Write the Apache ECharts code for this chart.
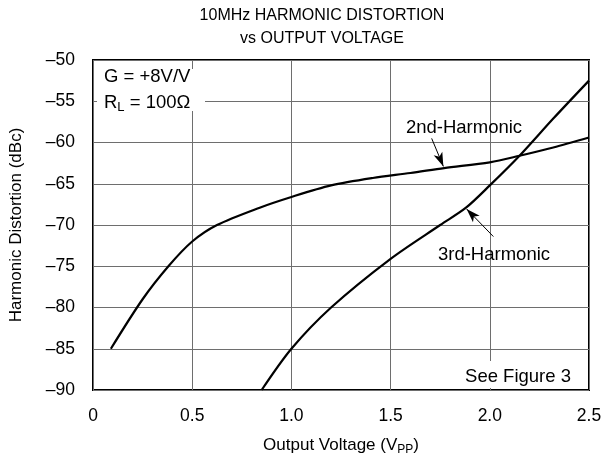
<!DOCTYPE html>
<html>
<head>
<meta charset="utf-8">
<script src="https://cdn.jsdelivr.net/npm/echarts@6/dist/echarts.min.js"></script>
<style>
html,body{margin:0;padding:0;background:#fff;}
#chart{width:609px;height:461px;}
</style>
</head>
<body>
<div id="chart"></div>
<script>
// ---- data ----
const xTicks = [0, 0.5, 1.0, 1.5, 2.0, 2.5];
const yTicks = [-90, -85, -80, -75, -70, -65, -60, -55, -50];
const secondHarmonic = [
  [0.09, -85], [0.25, -79.0], [0.38, -75], [0.5, -72.0], [0.625, -70.0], [0.84, -67.9],
  [1.0, -66.6], [1.2, -65.2], [1.41, -64.3], [1.6, -63.7], [1.77, -63.1], [2.0, -62.4],
  [2.15, -61.6], [2.32, -60.6], [2.5, -59.4]
];
const thirdHarmonic = [
  [0.85, -90], [1.0, -85], [1.2, -80], [1.5, -74.1], [1.75, -70.0],
  [1.88, -67.9], [2.0, -65.2], [2.15, -61.6], [2.32, -57.1], [2.5, -52.5]
];
const arrow2nd = [[1.707, -59.5], [1.766, -62.9]];
const arrow3rd = [[2.018, -71.4], [1.883, -68.05]];
const titleLines = ['10MHz HARMONIC DISTORTION', 'vs OUTPUT VOLTAGE'];
const FONT = '"Liberation Sans", Arial, Helvetica, sans-serif';

const chart = echarts.init(document.getElementById('chart'));
const option = {
  animation: false,
  backgroundColor: '#fff',
  textStyle: { fontFamily: FONT, color: '#000' },
  grid: {
    left: 93, right: 20, top: 60, bottom: 65,
    show: true, borderColor: '#000', borderWidth: 2, backgroundColor: 'transparent'
  },
  xAxis: {
    type: 'value', min: 0, max: 2.5, interval: 0.5,
    axisLine: { show: false }, axisTick: { show: false },
    splitLine: { show: true, lineStyle: { color: '#6e6e6e', width: 1 } },
    axisLabel: {
      margin: 17, fontSize: 17.5, color: '#000', fontFamily: FONT,
      formatter: v => (v === 0 ? '0' : v.toFixed(1))
    },
    name: '{a|Output Voltage (V}{s|PP}{a|)}',
    nameLocation: 'middle', nameGap: 45,
    nameTextStyle: {
      rich: {
        a: { fontSize: 17, fontFamily: FONT, color: '#000' },
        s: { fontSize: 12, fontFamily: FONT, color: '#000', padding: [9, 0, 0, 0] }
      }
    }
  },
  yAxis: {
    type: 'value', min: -90, max: -50, interval: 5,
    axisLine: { show: false }, axisTick: { show: false },
    splitLine: { show: true, lineStyle: { color: '#6e6e6e', width: 1 } },
    axisLabel: {
      margin: 18, fontSize: 17.5, color: '#000', fontFamily: FONT,
      formatter: v => (v < 0 ? '\u2013' + Math.abs(v) : String(v))
    },
    name: 'Harmonic Distortion (dBc)',
    nameLocation: 'middle', nameGap: 68,
    nameTextStyle: { fontSize: 17, fontFamily: FONT, color: '#000' }
  },
  graphic: [
    { type: 'rect', z: 50, shape: { x: 97, y: 69, width: 108, height: 42 }, style: { fill: '#fff' } },
    { type: 'rect', z: 50, shape: { x: 455, y: 361, width: 130, height: 27 }, style: { fill: '#fff' } },
    { type: 'text', z: 60, x: 322, y: 4, style: { text: titleLines.join('\n'), font: '16px ' + FONT, fill: '#000', textAlign: 'center', lineHeight: 23 } },
    { type: 'text', z: 60, x: 104, y: 77, style: { text: 'G = +8V/V', font: '18.5px ' + FONT, fill: '#000', textVerticalAlign: 'middle' } },
    { type: 'text', z: 60, x: 104, y: 91, style: {
        text: '{a|R}{s|L}{a| = 100\u03A9}',
        rich: {
          a: { fontSize: 18.5, fontFamily: FONT, fill: '#000' },
          s: { fontSize: 13, fontFamily: FONT, fill: '#000', padding: [10, 0, 0, 0] }
        }
      } },
    { type: 'text', z: 60, x: 464, y: 128, style: { text: '2nd-Harmonic', font: '18.5px ' + FONT, fill: '#000', textAlign: 'center', textVerticalAlign: 'middle' } },
    { type: 'text', z: 60, x: 494, y: 255, style: { text: '3rd-Harmonic', font: '18.5px ' + FONT, fill: '#000', textAlign: 'center', textVerticalAlign: 'middle' } },
    { type: 'text', z: 60, x: 518, y: 377, style: { text: 'See Figure 3', font: '18.5px ' + FONT, fill: '#000', textAlign: 'center', textVerticalAlign: 'middle' } }
  ],
  series: [
    {
      type: 'line', name: '2nd-Harmonic', data: secondHarmonic, smooth: 0.3,
      showSymbol: false, lineStyle: { color: '#000', width: 2.2 },
      markLine: {
        silent: true, symbol: ['none', 'arrow'], symbolSize: [7, 14],
        label: { show: false },
        lineStyle: { color: '#000', width: 1, type: 'solid' },
        data: [[{ coord: arrow2nd[0] }, { coord: arrow2nd[1] }]]
      }
    },
    {
      type: 'line', name: '3rd-Harmonic', data: thirdHarmonic, smooth: 0.3,
      showSymbol: false, lineStyle: { color: '#000', width: 2.2 },
      markLine: {
        silent: true, symbol: ['none', 'arrow'], symbolSize: [7, 14],
        label: { show: false },
        lineStyle: { color: '#000', width: 1, type: 'solid' },
        data: [[{ coord: arrow3rd[0] }, { coord: arrow3rd[1] }]]
      }
    }
  ]
};
chart.setOption(option);
</script>
</body>
</html>
